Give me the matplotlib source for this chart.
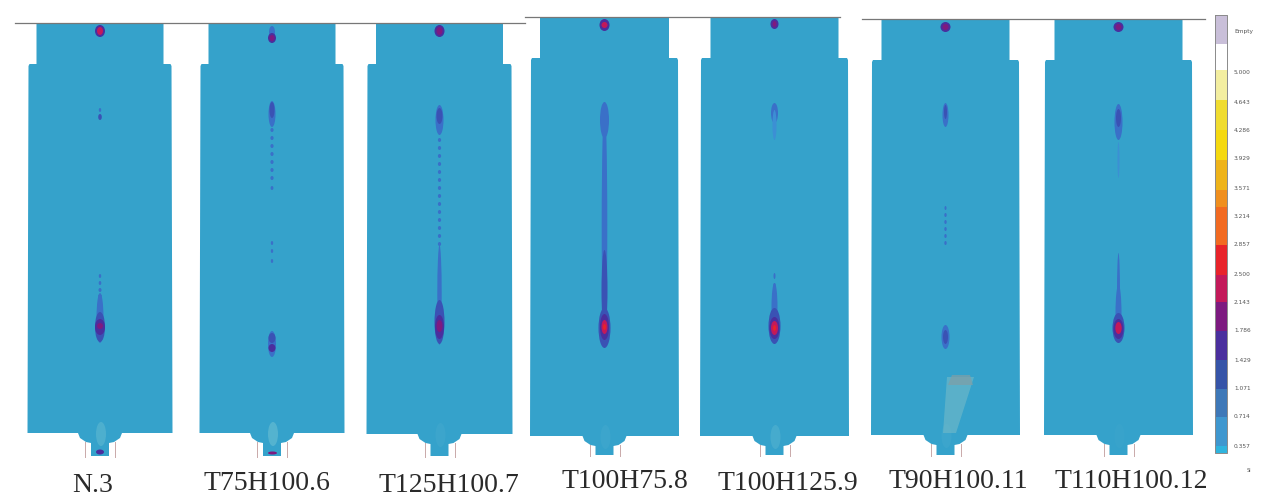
import matplotlib
matplotlib.use('Agg')
import matplotlib.pyplot as plt
from matplotlib.colors import ListedColormap
from matplotlib.patches import Ellipse, Polygon
import numpy as np

labels = ['N.3', 'T75H100.6', 'T125H100.7', 'T100H75.8', 'T100H125.9', 'T90H100.11', 'T110H100.12']
label_x = [93, 267, 449, 625, 788, 958, 1131]
label_y = [485, 483, 485, 482, 484, 482, 482]

centers = [100, 272, 439.5, 604.5, 774.5, 945.5, 1118.5]
upper_half = [63.5, 63.5, 63.5, 64.5, 64, 64, 64]
body_half = [71.5, 71.5, 72, 73.5, 73.5, 73.5, 73.5]
top_y = [24, 24, 24, 18, 18, 20, 20]
shoulder_y = [64, 64, 64, 58, 58, 60, 60]
bottom_y = [433, 433, 434, 436, 436, 435, 435]
neck_y = [456, 456, 456, 455, 455, 455, 455]
pale_alpha = [0.35, 0.45, 0.1, 0.1, 0.25, 0.1, 0.05]

# contour levels, bottom of the scale first
tick_values = ['0.357', '0.714', '1.071', '1.429', '1.786', '2.143', '2.500',
               '2.857', '3.214', '3.571', '3.929', '4.286', '4.643', '5.000']
level_colors = ['#2fb4de', '#3f97cf', '#3e78b8', '#3654a8', '#4a2f9e', '#7d1a80', '#c3195a',
                '#e8232a', '#f26a21', '#f08f1e', '#eeb319', '#f5d90f', '#f0dc30', '#f3eea0',
                '#ffffff', '#c9bfd9']
# same levels as they look on the plates, a bit bluer than on the scale
mark_colors = ['#2fb4de', '#3c8fd4', '#3a70c8', '#3a52b4', '#4a2f9e', '#7d1a80', '#c3195a', '#e8232a']

# (y, half width, half height, level)
blobs = [
    [(31, 5, 6, 4), (31, 3, 4, 6), (110, 1.2, 2, 2), (117, 1.8, 3, 3),
     (276, 1.2, 2, 2), (283, 1.3, 2, 2), (290, 1.5, 2, 2), (296, 1.5, 2, 3), (318, 3.5, 25, 2),
     (327, 5, 15, 3), (327, 5, 8, 4), (326, 3, 3, 5)],
    [(32, 3, 6, 2), (38, 4, 5, 4), (38, 2.5, 3, 5), (114, 3.5, 13, 2), (110, 2.5, 8, 3),
     (130, 1.6, 2, 2), (138, 1.6, 2, 2), (146, 1.6, 2, 2), (154, 1.6, 2, 2), (162, 1.6, 2, 2),
     (170, 1.6, 2, 2), (178, 1.6, 2, 2), (188, 1.4, 2, 2), (243, 1.2, 2, 2), (251, 1.2, 2, 2), (261, 1.2, 2, 2),
     (344, 4, 13, 2), (338, 3.5, 5, 3), (348, 3.5, 4, 4)],
    [(31, 5, 6, 4), (31, 3, 4, 5), (120, 4, 15, 2), (116, 3, 8, 3),
     (140, 1.6, 2, 2), (148, 1.6, 2, 2), (156, 1.6, 2, 2), (164, 1.6, 2, 2), (172, 1.6, 2, 2), (180, 1.6, 2, 2),
     (188, 1.6, 2, 2), (196, 1.6, 2, 2), (204, 1.6, 2, 2), (212, 1.6, 2, 2), (220, 1.6, 2, 2), (228, 1.6, 2, 2),
     (236, 1.6, 2, 2), (244, 1.6, 2, 2), (295, 2.2, 50, 2),
     (322, 5, 22, 3), (327, 4.5, 12, 4), (326, 3, 6, 5)],
    [(25, 5, 6, 4), (25, 3, 3, 6), (120, 4.5, 18, 2), (225, 2.8, 118, 2), (290, 3, 40, 3),
     (328, 6, 20, 3), (327, 4.5, 13, 4), (327, 3, 7, 6), (327, 1.5, 3, 7)],
    [(24, 4, 5, 4), (24, 2, 3, 5), (113, 3.5, 10, 2), (125, 2, 15, 1),
     (276, 1, 3, 2), (286, 1.3, 3, 2), (307, 3, 24, 2),
     (326, 6, 18, 3), (328, 5, 11, 4), (328, 3.5, 7, 6), (328, 1.5, 3, 7)],
    [(27, 5, 5, 4), (27, 3, 3, 5), (115, 3, 12, 2), (112, 1.5, 7, 3),
     (208, 1, 2, 2), (215, 1.2, 2, 2), (222, 1.2, 2, 2), (229, 1.2, 2, 2), (236, 1.2, 2, 2), (243, 1.2, 2, 2),
     (337, 4, 12, 2), (337, 2.5, 7, 3)],
    [(27, 5, 5, 4), (27, 3, 3, 5), (122, 4, 18, 2), (118, 2.5, 9, 3), (160, 1, 18, 1),
     (295, 1.5, 42, 2), (313, 3, 28, 2), (328, 6, 15, 3), (329, 5, 10, 4), (328, 3.2, 6, 6)],
]

plate_color = '#35a2cb'
pale_color = '#7cc8d6'

fig = plt.figure(figsize=(12.61, 4.97), dpi=100)
ax = fig.add_axes([0, 0, 1, 1])
ax.set_xlim(0, 1261)
ax.set_ylim(497, 0)
ax.axis('off')

for i, cx in enumerate(centers):
    t, s, b, n = top_y[i], shoulder_y[i], bottom_y[i], neck_y[i]
    u, w = upper_half[i], body_half[i]
    outline = [(cx - u, t), (cx + u, t), (cx + u, s), (cx + w - 1, s), (cx + w, s + 2), (cx + w + 1, b),
               (cx + 22, b), (cx + 20, b + 5), (cx + 14, b + 9), (cx + 9, b + 10), (cx + 9, n),
               (cx - 9, n), (cx - 9, b + 10), (cx - 14, b + 9), (cx - 20, b + 5), (cx - 22, b),
               (cx - w - 1, b), (cx - w, s + 2), (cx - w + 1, s), (cx - u, s)]
    ax.add_patch(Polygon(outline, closed=True, fc=plate_color, ec='none', zorder=1))
    # thin riser lines either side of the neck
    ax.plot([cx - 15, cx - 15], [b + 9, n + 1], color='#c9a9a9', lw=0.7, zorder=1)
    ax.plot([cx + 15, cx + 15], [b + 9, n + 1], color='#c9a9a9', lw=0.7, zorder=1)
    ax.add_patch(Ellipse((cx + 1, b + 1), 10, 24, fc=pale_color, ec='none', alpha=pale_alpha[i], zorder=2))
    for y, rx, ry, lev in blobs[i]:
        ax.add_patch(Ellipse((cx, y), rx * 2, ry * 2, fc=mark_colors[lev], ec='none', zorder=3))
    ax.text(label_x[i], label_y[i], labels[i], family='Liberation Serif', fontsize=20,
            color='#2a2a2a', ha='center', va='center')

# worn patch on the T90 plate and the small spots at the bottom of N.3 / T75
ax.add_patch(Polygon([(947, 377), (974, 377), (956, 433), (943, 433)], closed=True,
                     fc='#6fb9c8', ec='none', alpha=0.65, zorder=2))
ax.add_patch(Polygon([(952, 375), (970, 375), (973, 385), (948, 385)], closed=True,
                     fc='#7d9fa8', ec='none', alpha=0.75, zorder=2))
ax.add_patch(Ellipse((100, 452), 8, 5, fc=level_colors[4], ec='none', zorder=3))
ax.add_patch(Ellipse((272.5, 453), 9, 3, fc=level_colors[5], ec='none', zorder=3))

# lines along the top of the plates
ax.plot([15, 525], [22.5, 22.5], color='#777777', lw=0.9, zorder=4)
ax.plot([525, 840], [16.5, 16.5], color='#777777', lw=0.9, zorder=4)
ax.plot([862, 1205], [19, 19], color='#777777', lw=0.9, zorder=4)

# colour scale
bar_cmap = ListedColormap(level_colors)
bar = np.arange(len(level_colors))[::-1].reshape(-1, 1)
edges = [453, 446, 417, 389, 360, 331, 302, 275, 245, 207, 190, 160, 130, 100, 70, 44, 15]
ax.pcolormesh([1215, 1227], edges[::-1], bar, cmap=bar_cmap, shading='flat', zorder=3)
ax.plot([1215, 1227, 1227, 1215, 1215], [15, 15, 453, 453, 15], color='#8a8a8a', lw=0.7, zorder=4)

tick_y = [446, 417, 389, 360, 331, 303, 274, 245, 216, 188, 158, 131, 103, 72]
for y, text in zip(tick_y, tick_values):
    ax.text(1234, y, text, fontsize=4.2, color='#555555', va='center')
ax.text(1234, 31, 'Empty', fontsize=4.2, color='#555555', va='center')
ax.text(1249, 470, 'SI', fontsize=3.5, color='#555555', ha='center', va='center')

fig.savefig('out.png', dpi=100)
